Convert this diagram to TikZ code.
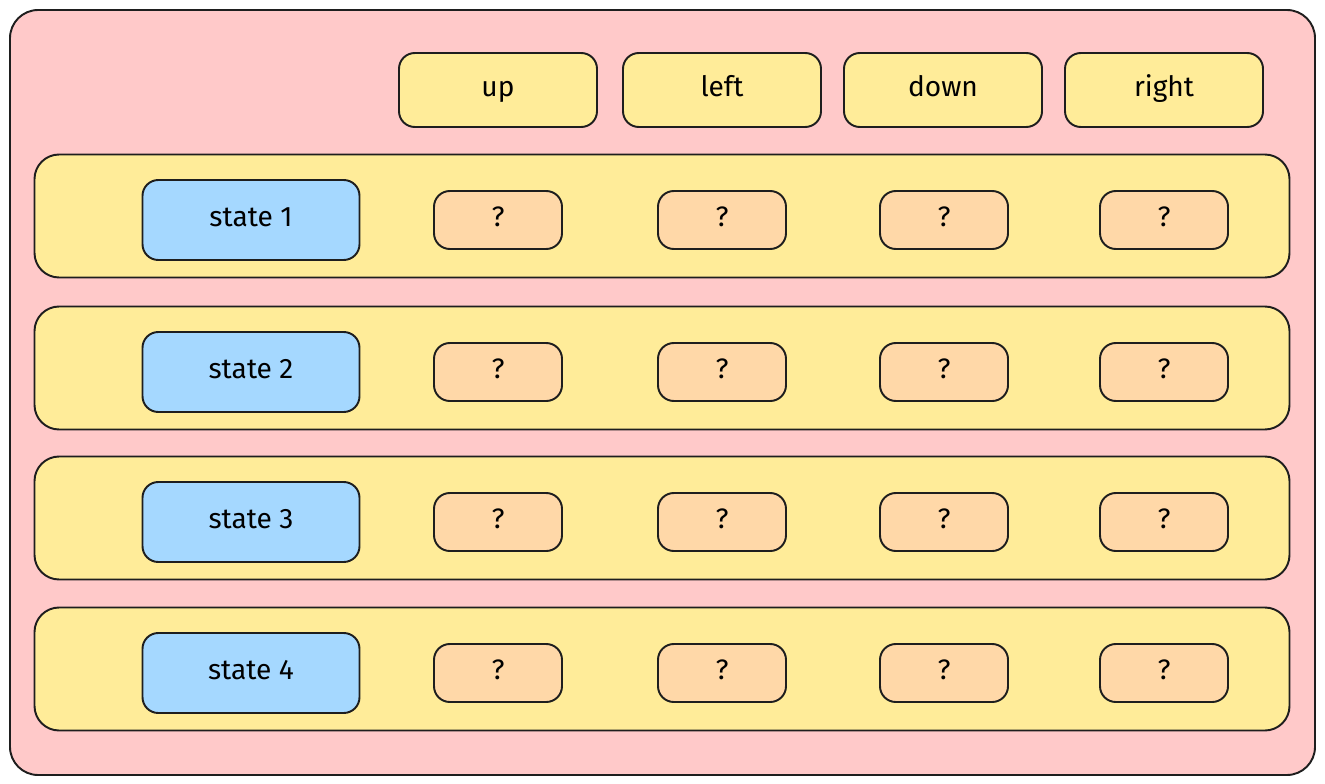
\documentclass[tikz,border=0pt]{standalone}
\usepackage{fontspec}
\setmainfont{Fira Sans}
\usepackage{xcolor}
\definecolor{pinkbg}{HTML}{FFC9C9}
\definecolor{rowbg}{HTML}{FFEC99}
\definecolor{statebg}{HTML}{A5D8FF}
\definecolor{cellbg}{HTML}{FFD8A8}
\definecolor{inkline}{HTML}{1E1E1E}
\tikzset{
  box/.style={draw=inkline, line width=1.1pt, rounded corners=9pt, inner sep=0pt,
    font=\fontsize{16}{19}\selectfont, text height=11pt, text depth=3.5pt},
  headbox/.style={box, fill=rowbg, minimum width=198*0.02cm, minimum height=74*0.02cm},
  rowbox/.style={box, fill=rowbg, rounded corners=14pt, minimum width=1255*0.02cm, minimum height=123*0.02cm},
  statebox/.style={box, fill=statebg, minimum width=217*0.02cm, minimum height=80*0.02cm},
  cellbox/.style={box, fill=cellbg, minimum width=128*0.02cm, minimum height=58*0.02cm}
}
\begin{document}
\begin{tikzpicture}[x=0.02cm, y=-0.02cm]
  \useasboundingbox (0,0) rectangle (1325,784);
  % Draw the background panel
  \draw[draw=inkline, line width=1.1pt, fill=pinkbg, rounded corners=16pt] (10,10) rectangle (1315,775);

  % Draw the action headers
  \node[headbox] (up) at (498,90) {up};
  \node[headbox] (left) at (722,90) {left};
  \node[headbox] (down) at (943,90) {down};
  \node[headbox] (right) at (1164,90) {right};

  % Draw the state rows
  \foreach \i/\y in {1/216, 2/368, 3/518, 4/669} {
    \node[rowbox] (row\i) at (662,\y) {};
    \node[statebox] (state\i) at (251,\y+4) {state \i};
    \node[cellbox] (cell\i a) at (498,\y+4) {?};
    \node[cellbox] (cell\i b) at (722,\y+4) {?};
    \node[cellbox] (cell\i c) at (944,\y+4) {?};
    \node[cellbox] (cell\i d) at (1164,\y+4) {?};
  }
\end{tikzpicture}
\end{document}
